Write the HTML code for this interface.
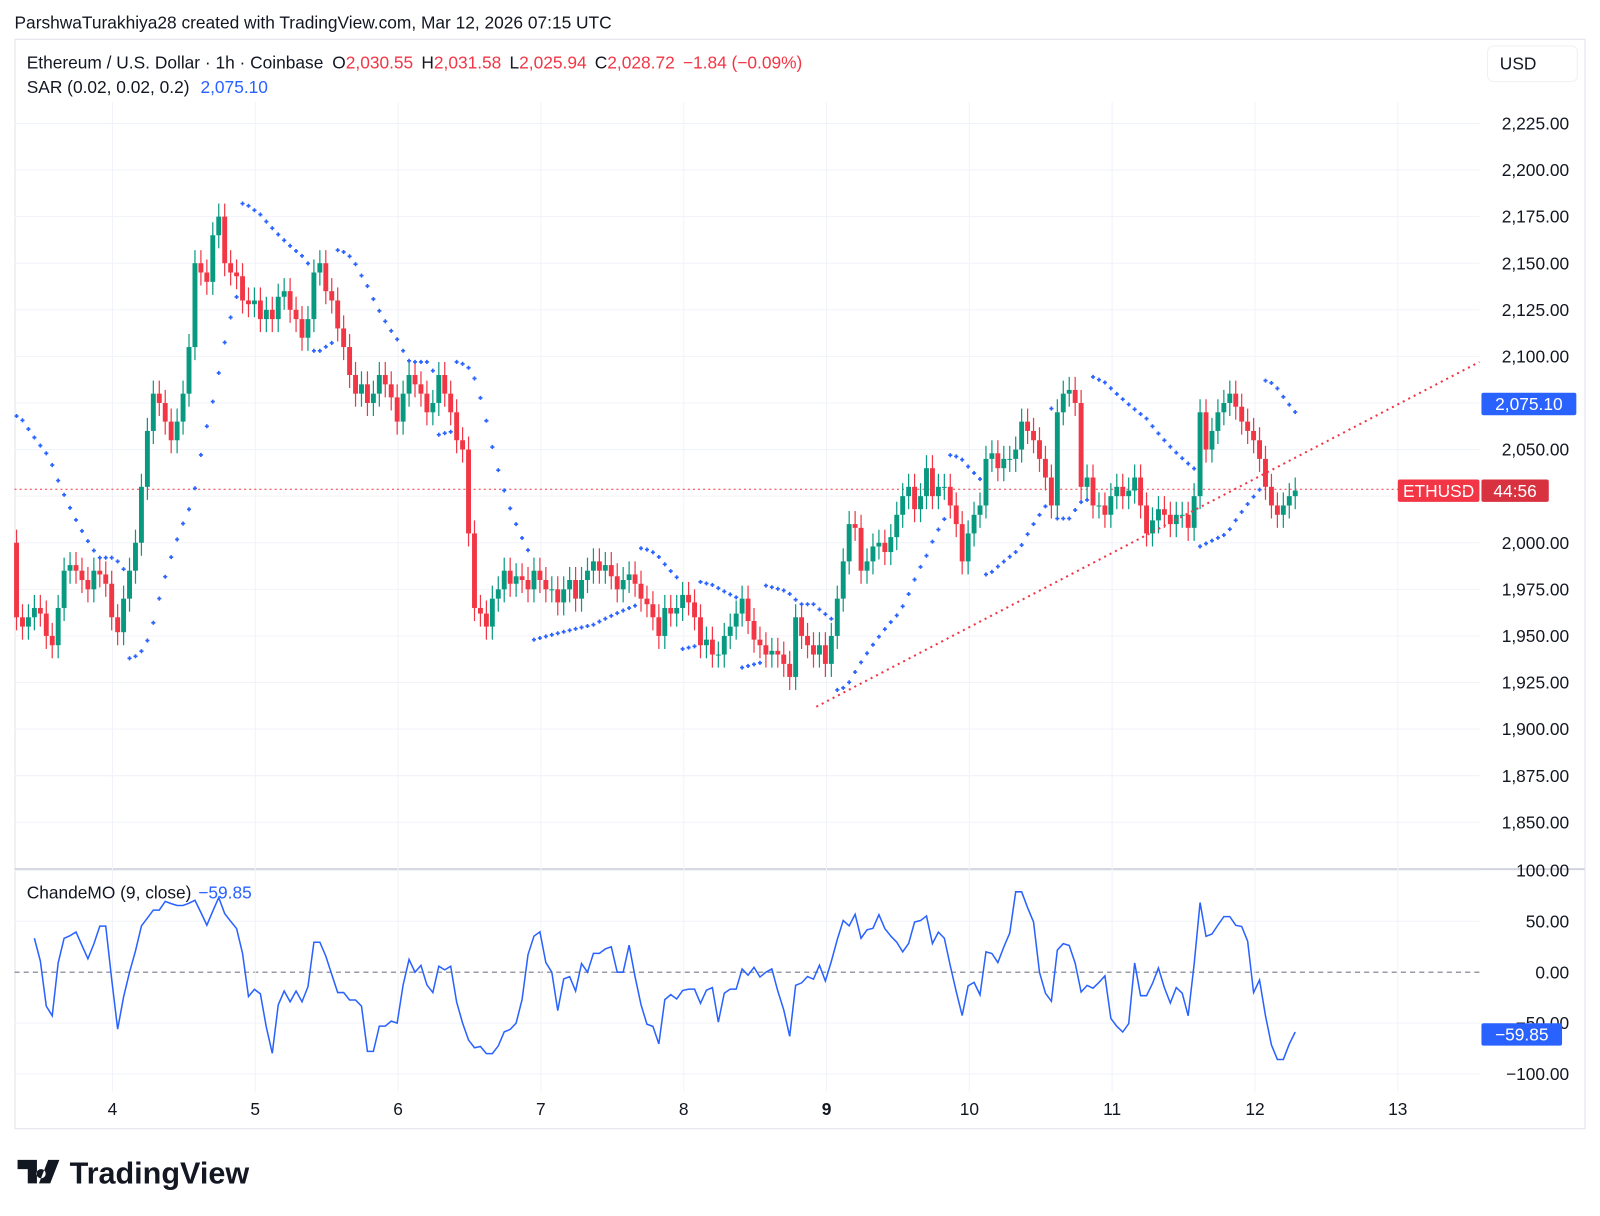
<!DOCTYPE html>
<html><head><meta charset="utf-8"><style>
html,body{margin:0;padding:0;background:#fff;}
svg{display:block;font-family:"Liberation Sans",sans-serif;}
</style></head><body>
<svg id="chart" width="1600" height="1216" viewBox="0 0 1568 1192" xmlns="http://www.w3.org/2000/svg">
<rect x="0" y="0" width="1568" height="1192" fill="#fff"/>
<text x="14" y="28" font-size="17" fill="#131722">ParshwaTurakhiya28 created with TradingView.com, Mar 12, 2026 07:15 UTC</text>
<rect x="14.5" y="38.5" width="1539" height="1068" fill="none" stroke="#e0e3eb"/>
<line x1="14" y1="852" x2="1553" y2="852" stroke="#d1d4dc" stroke-width="2"/>
<g id="grid"></g>
<g id="axes"></g>
<g id="plot"></g>
<text x="26" y="67" font-size="17" fill="#131722">Ethereum / U.S. Dollar · 1h · Coinbase <tspan dx="4">O</tspan><tspan fill="#f23645">2,030.55</tspan><tspan dx="8">H</tspan><tspan fill="#f23645">2,031.58</tspan><tspan dx="8">L</tspan><tspan fill="#f23645">2,025.94</tspan><tspan dx="8">C</tspan><tspan fill="#f23645">2,028.72</tspan><tspan dx="8" fill="#f23645">−1.84 (−0.09%)</tspan></text>
<text x="26" y="91" font-size="17" fill="#131722">SAR (0.02, 0.02, 0.2) <tspan dx="6" fill="#2962ff">2,075.10</tspan></text>
<text x="26" y="881" font-size="17" fill="#131722">ChandeMO (9, close) <tspan dx="2" fill="#2962ff">−59.85</tspan></text>
<rect x="1458" y="45" width="88" height="35" rx="6" fill="#fff" stroke="#eef0f4"/>
<text x="1470" y="68" font-size="17" fill="#131722">USD</text>
<g>
<path d="M17 1137h19v23h-9v-14h-10z M40 1146a4.5 4.5 0 1 0 0.1 0z M47 1137h11l-9 23h-11z" fill="#131722"/>
<text x="68" y="1160" font-size="30" font-weight="bold" fill="#131722">TradingView</text>
</g>
</svg>
<script>
const closes=[1960,1955,1960,1965,1962,1950,1945,1965,1985,1988,1985,1980,1975,1985,1983,1978,
1960,1952,1970,1985,2000,2030,2060,2080,2075,2065,2055,2065,2080,2105,2150,2145,2140,2165,2175,2150,2145,2143,
2130,2128,2130,2120,2125,2120,2132,2135,2125,2120,2110,2120,2145,2150,2135,2130,2115,
2105,2090,2080,2085,2075,2080,2090,2085,2078,2065,2080,2090,2085,2080,2070,2075,2090,2080,2070,2055,2050,2005,
1965,1962,1955,1970,1975,1985,1978,1982,1980,1975,1985,1980,1975,1975,1968,1975,1980,1970,1980,1985,1990,1985,1988,1982,1975,1980,1983,1978,1970,1967,1960,1950,
1965,1962,1965,1972,1968,1960,1945,1948,1940,1940,1950,1955,1962,1970,1958,1948,1945,1940,1942,1940,1935,1928,
1960,1950,1945,1940,1945,1935,1950,1970,1990,2010,2008,1985,1990,1998,2000,1995,2003,2015,2025,2030,2018,2025,2040,2025,2030,2030,2020,2010,
1990,2005,2015,2020,2045,2048,2040,2045,2045,2050,2065,2060,2055,2045,2035,2020,2070,2080,2082,2075,2030,
2035,2020,2020,2015,2025,2030,2025,2028,2035,2020,2005,2012,2018,2015,2010,2015,2015,2008,
2025,2070,2050,2060,2070,2075,2080,2073,2065,2060,2055,2045,2030,2020,2015,2020,2025,2028];
const firstOpen=2000;
const wick=7;
const priceTicks=[2225,2200,2175,2150,2125,2100,2075,2050,2025,2000,1975,1950,1925,1900,1875,1850];
const cmoTicks=[100,50,0,-50,-100];
const dayLabels=["4","5","6","7","8","9","10","11","12","13"];
const dayValues=[4,5,6,7,8,9,10,11,12,13];
const sarInit=2068;
const trendStart=[1912,2097];
const lastPriceLine=2028.72;

const NS="http://www.w3.org/2000/svg";
const X=i=>16+5.83*i;
const XD=d=>110+140*(d-4);
const YP=p=>121+(2225-p)*45.67/25;
const YC=v=>953-v*0.998;
function mk(parent,tag,attrs){const e=document.createElementNS(NS,tag);for(const k in attrs)e.setAttribute(k,attrs[k]);document.getElementById(parent).appendChild(e);return e;}

priceTicks.forEach(p=>{
 const l=mk('grid','line',{x1:14,x2:1450,y1:YP(p),y2:YP(p),stroke:'#f0f3fa'});
 
 
 if(p===2025) return;
 const t=mk('axes','text',{x:1538,y:YP(p)+6,'font-size':17,fill:'#131722','text-anchor':'end'});
 
 
 t.textContent=p.toLocaleString('en-US',{minimumFractionDigits:2});
});
cmoTicks.forEach(v=>{
 if(v!==0){const l=mk('grid','line',{x1:14,x2:1450,y1:YC(v),y2:YC(v),stroke:'#f0f3fa'});
 
 }
 const t=mk('axes','text',{x:1538,y:YC(v)+6,'font-size':17,fill:'#131722','text-anchor':'end'});
 
 
 t.textContent=(v<0?'−':'')+Math.abs(v).toFixed(2);
});
const zl=mk('grid','line',{x1:14,x2:1450,y1:YC(0),y2:YC(0),stroke:'#787b86','stroke-dasharray':'5,4'});


dayValues.forEach((d,k)=>{
 const l=mk('grid','line',{x1:XD(d),x2:XD(d),y1:100,y2:1070,stroke:'#f0f3fa'});
 
 
 const t=mk('axes','text',{x:XD(d),y:1093,'font-size':17,fill:'#131722','text-anchor':'middle','font-weight':d===9?'bold':'normal'});
 
 
 t.textContent=dayLabels[k];
});

const lp=mk('plot','line',{x1:14,x2:1450,y1:YP(lastPriceLine),y2:YP(lastPriceLine),stroke:'#f23645','stroke-dasharray':'2,3'});



const opens=[],highs=[],lows=[];
closes.forEach((c,i)=>{
 const o=i===0?firstOpen:closes[i-1];
 opens.push(o);highs.push(Math.max(o,c)+wick);lows.push(Math.min(o,c)-wick);
 const up=c>=o, col=up?'#089981':'#f23645';
 const w=mk('plot','line',{x1:X(i),x2:X(i),y1:YP(highs[i]),y2:YP(lows[i]),stroke:col,'stroke-width':1.2});
 
 
 const top=YP(Math.max(o,c)),h=Math.max(1,YP(Math.min(o,c))-top);
 const b=mk('plot','rect',{x:X(i)-2.4,y:top,width:4.8,height:h,fill:col});
 
 
});

let down=true,sar=sarInit,ep=lows[0],af=0.02;
for(let i=0;i<closes.length;i++){
 if(i>0){
  sar=sar+af*(ep-sar);
  if(down){sar=Math.max(sar,highs[i-1],i>1?highs[i-2]:highs[i-1]);
   if(highs[i]>sar){down=false;sar=ep;ep=highs[i];af=0.02;}
   else if(lows[i]<ep){ep=lows[i];af=Math.min(0.2,af+0.02);}
  }else{sar=Math.min(sar,lows[i-1],i>1?lows[i-2]:lows[i-1]);
   if(lows[i]<sar){down=true;sar=ep;ep=lows[i];af=0.02;}
   else if(highs[i]>ep){ep=highs[i];af=Math.min(0.2,af+0.02);}
  }
 }
 const y=YP(sar),x=X(i);
 const d=mk('plot','path',{d:`M${x-2} ${y}h4M${x} ${y-2}v4`,stroke:'#2962ff','stroke-width':1.6});
 
 
}

const tl=mk('plot','line',{x1:800,y1:YP(trendStart[0]),x2:1450,y2:YP(trendStart[1]),stroke:'#f23645','stroke-width':2,'stroke-dasharray':'2,4'});



const cmo=[];
for(let i=3;i<closes.length;i++){
 let u=0,dn=0;
 for(let j=Math.max(1,i-8);j<=i;j++){const df=closes[j]-closes[j-1];if(df>0)u+=df;else dn-=df;}
 cmo.push([i,(u+dn)?100*(u-dn)/(u+dn):0]);
}
const cl=mk('plot','polyline',{points:cmo.map(([i,v])=>X(i)+','+YC(v)).join(' '),fill:'none',stroke:'#2962ff','stroke-width':1.5});



function tag(x,y,w,fill,txt,name){
 const r=mk('axes','rect',{x:x,y:y,width:w,height:22,rx:2,fill:fill});
 
 
 const t=mk('axes','text',{x:x+w/2,y:y+17,'font-size':17,fill:'#fff','text-anchor':'middle'});
 
 
 t.textContent=txt;
}
tag(1452,385,93,'#2962ff','2,075.10','sar-price-tag');
tag(1370,470,80,'#f23645','ETHUSD','symbol-tag');
tag(1452,470,66,'#d8313f','44:56','countdown-tag');
tag(1452,1003,79,'#2962ff','−59.85','cmo-value-tag');
</script>
</body></html>
